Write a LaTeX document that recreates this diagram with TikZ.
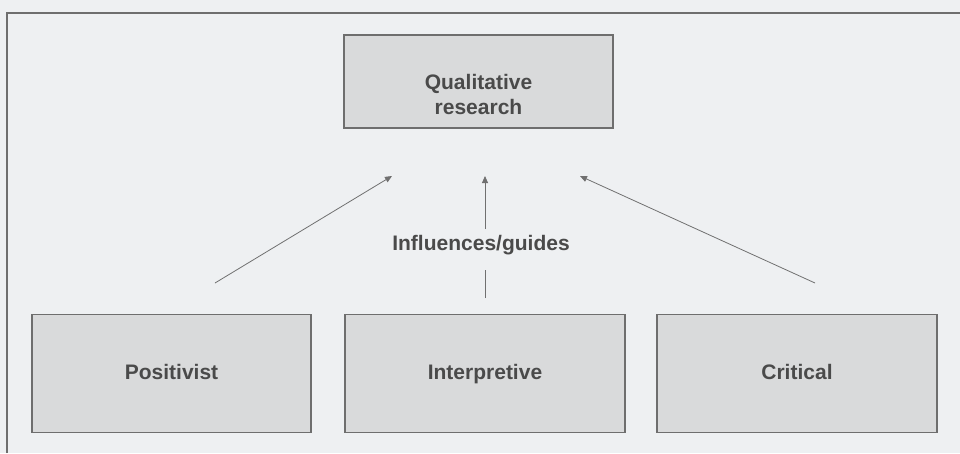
\documentclass[tikz,border=0pt]{standalone}
\usepackage{fontspec}
\setmainfont{Liberation Sans}
\usetikzlibrary{arrows.meta}
\definecolor{bgcol}{HTML}{EEF0F2}
\definecolor{boxfill}{HTML}{D9DADB}
\definecolor{boxline}{HTML}{6E6E6E}
\definecolor{inkcol}{HTML}{4A4A4A}
\definecolor{arrowcol}{HTML}{707070}
\tikzset{
  boxfont/.style={font=\fontsize{21}{25}\selectfont\bfseries},
  conceptbox/.style={draw=boxline, line width=1.2pt, fill=boxfill, inner sep=0pt,
    text=inkcol, boxfont, align=center, text height=15pt, text depth=4pt},
  link/.style={draw=arrowcol, line width=0.8pt, -{Triangle[length=7pt,width=6pt]}},
  plainlink/.style={draw=arrowcol, line width=0.8pt}
}
\begin{document}
\begin{tikzpicture}[x=1pt,y=-1pt]
  % canvas
  \fill[bgcol] (0,0) rectangle (960,453);
  \useasboundingbox (0,0) rectangle (960,453);
  % outer frame (top and left edges)
  \draw[boxline, line width=1.3pt] (7,453) -- (7,13) -- (960,13);
  % boxes
  \node[conceptbox, text height=69pt, minimum width=269pt, minimum height=93pt] (qual) at (478.5,81.5) {Qualitative\\research};
  \node[conceptbox, minimum width=279pt, minimum height=118pt] (pos) at (171.5,373.5) {Positivist};
  \node[conceptbox, minimum width=280pt, minimum height=118pt] (int) at (485,373.5) {Interpretive};
  \node[conceptbox, minimum width=280pt, minimum height=118pt] (crit) at (797,373.5) {Critical};
  % connector end points
  \coordinate (pstart) at (215,283);
  \coordinate (pend) at (392,176);
  \coordinate (cstart) at (815,283);
  \coordinate (cend) at (580,176);
  \coordinate (istart) at (485,298);
  \coordinate (ibreaklow) at (485,270);
  \coordinate (ibreakhigh) at (485,229);
  \coordinate (iend) at (485,176);
  \node[text=inkcol, boxfont, inner sep=0pt, anchor=base] (lbl) at (481,250) {Influences/guides};
  % connectors
  \draw[link] (pstart) -- (pend);
  \draw[link] (cstart) -- (cend);
  \draw[plainlink] (istart) -- (ibreaklow);
  \draw[link] (ibreakhigh) -- (iend);
\end{tikzpicture}
\end{document}
